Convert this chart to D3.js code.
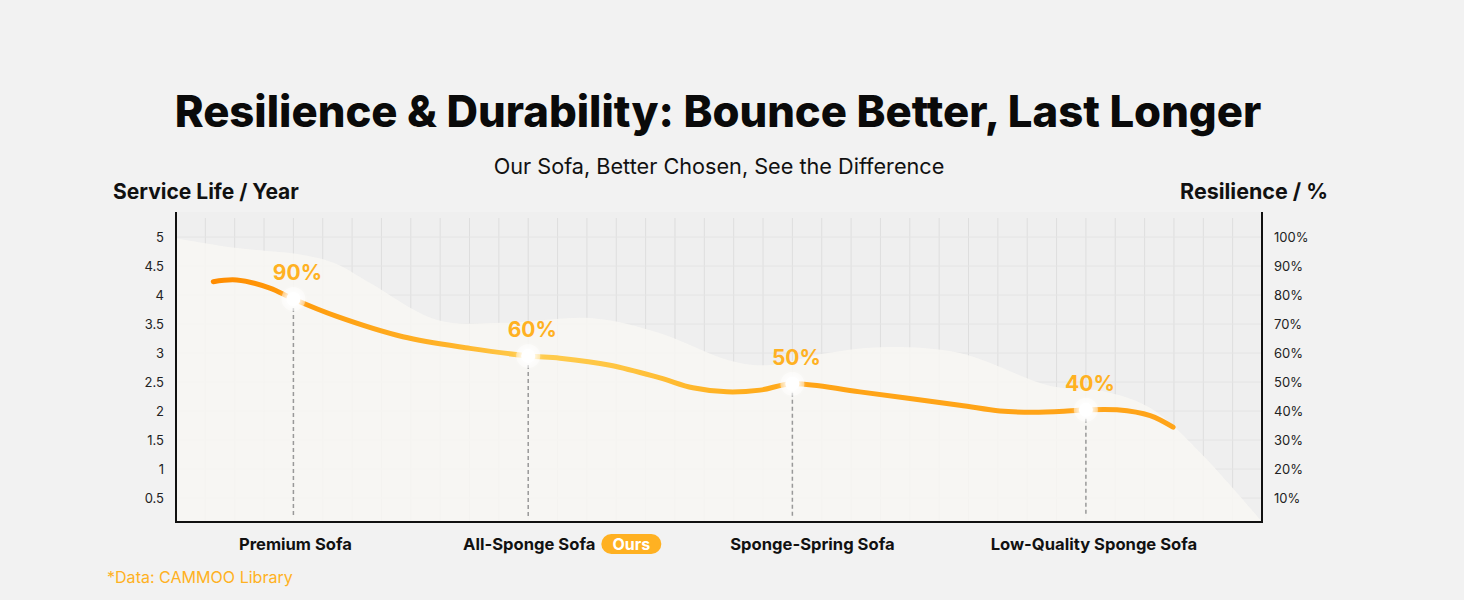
<!DOCTYPE html>
<html>
<head>
<meta charset="utf-8">
<script src="https://cdn.jsdelivr.net/npm/d3@7"></script>
<style>
  body { margin: 0; background: #f2f2f2; }
  svg text { font-family: Inter, "Noto Sans", sans-serif; }
</style>
</head>
<body>
<svg id="chart" width="1464" height="600"></svg>
<script>
// ---- data ----
const categories = ["Premium Sofa", "All-Sponge Sofa", "Sponge-Spring Sofa", "Low-Quality Sponge Sofa"];
const categoryCol = [4, 12, 21, 31];          // grid column of each sofa
const resilience = [90, 60, 50, 40];          // % labels
const serviceLife = [3.93, 2.95, 2.47, 2.02]; // dot heights, years
const isOurs = [false, true, false, false];

// service-life curve, grid column / years
const lineCols = [1.27, 2.07, 3.2, 4, 5.48, 7.73, 10.02, 12, 13.08, 14.79, 16.49, 17.61, 18.77, 19.9, 21, 23.3, 26.7, 28.07, 29.2, 30.36, 31, 32.06, 33.19, 33.97];
const lineVals = [4.23, 4.26, 4.12, 3.93, 3.63, 3.28, 3.08, 2.95, 2.91, 2.79, 2.57, 2.40, 2.33, 2.36, 2.47, 2.33, 2.10, 2.0, 1.98, 2.0, 2.02, 2.02, 1.92, 1.72];

// soft background band
const bgCols = [0, 2.08, 4.33, 5.4, 6.6, 8.9, 11.1, 14.2, 16.5, 18.8, 20.1, 22.2, 24, 26.7, 29.8, 31.6, 33.2, 34.9, 37];
const bgVals = [4.98, 4.81, 4.69, 4.55, 4.21, 3.57, 3.52, 3.60, 3.34, 2.88, 2.79, 3.0, 3.10, 3.0, 2.43, 2.34, 2.05, 1.28, 0.09];

const yearTicks = [0.5, 1, 1.5, 2, 2.5, 3, 3.5, 4, 4.5, 5];
const pctTicks = [10, 20, 30, 40, 50, 60, 70, 80, 90, 100];
const nCols = 37;

// ---- layout ----
const box = { left: 176, right: 1262, top: 212, bottom: 522 };
const orange = "#ffb122";

const svg = d3.select("#chart");

const x = d3.scaleLinear().domain([0, nCols]).range([box.left, box.right]);
const y = d3.scaleLinear().domain([0, 5]).range([527, 237]);
const yPct = d3.scaleLinear().domain([0, 100]).range([527, 237]);

const defs = svg.append("defs");
defs.append("clipPath").attr("id", "plot-clip")
  .append("rect")
    .attr("x", box.left).attr("y", box.top)
    .attr("width", box.right - box.left).attr("height", box.bottom - box.top);

const grad = defs.append("linearGradient")
  .attr("id", "line-grad")
  .attr("gradientUnits", "userSpaceOnUse")
  .attr("x1", x(lineCols[0])).attr("x2", x(lineCols[lineCols.length - 1]))
  .attr("y1", 0).attr("y2", 0);
[[0, "#ff8c00"], [0.1, "#ff9d0e"], [0.25, "#ffb42a"], [0.33, "#ffcd50"], [0.43, "#ffc440"],
 [0.54, "#ffb020"], [0.62, "#ffa416"], [1, "#ffa419"]].forEach(([o, c]) => {
  grad.append("stop").attr("offset", o).attr("stop-color", c);
});

const glow = defs.append("filter").attr("id", "glow")
  .attr("x", "-100%").attr("y", "-100%").attr("width", "300%").attr("height", "300%");
glow.append("feGaussianBlur").attr("stdDeviation", 3);

// plot background
const plot = svg.append("g").attr("clip-path", "url(#plot-clip)");
plot.append("rect")
  .attr("x", box.left).attr("y", box.top)
  .attr("width", box.right - box.left).attr("height", box.bottom - box.top)
  .attr("fill", "#efefef");

// grid
plot.selectAll(".vgrid")
  .data(d3.range(1, nCols))
  .join("line")
    .attr("class", "vgrid")
    .attr("x1", d => x(d)).attr("x2", d => x(d))
    .attr("y1", box.top + 6).attr("y2", box.bottom)
    .attr("stroke", "#dedede").attr("stroke-width", 1);

plot.selectAll(".hgrid")
  .data(yearTicks)
  .join("line")
    .attr("class", "hgrid")
    .attr("x1", box.left).attr("x2", box.right)
    .attr("y1", d => y(d)).attr("y2", d => y(d))
    .attr("stroke", "#e4e4e4").attr("stroke-width", 1);

// background band
const bgData = bgCols.map((c, i) => [c, bgVals[i]]);
plot.append("path")
  .datum(bgData)
  .attr("d", d3.area()
    .x(d => x(d[0]))
    .y0(box.bottom)
    .y1(d => y(d[1]))
    .curve(d3.curveCatmullRom.alpha(0.5)))
  .attr("fill", "#f8f7f3")
  .attr("fill-opacity", 0.85);

// dashed drop lines
svg.selectAll(".drop")
  .data(categories)
  .join("line")
    .attr("class", "drop")
    .attr("x1", (d, i) => x(categoryCol[i])).attr("x2", (d, i) => x(categoryCol[i]))
    .attr("y1", (d, i) => y(serviceLife[i]) + 9)
    .attr("y2", box.bottom - 6)
    .attr("stroke", "#999").attr("stroke-width", 1.5)
    .attr("stroke-dasharray", "4,3");

// service life curve
const lineData = lineCols.map((c, i) => [c, lineVals[i]]);
svg.append("path")
  .datum(lineData)
  .attr("d", d3.line()
    .x(d => x(d[0]))
    .y(d => y(d[1]))
    .curve(d3.curveCatmullRom.alpha(0.5)))
  .attr("fill", "none")
  .attr("stroke", "url(#line-grad)")
  .attr("stroke-width", 5)
  .attr("stroke-linecap", "round");

// glowing dots
const dots = svg.selectAll(".dot")
  .data(categories)
  .join("g")
    .attr("class", "dot")
    .attr("transform", (d, i) => `translate(${x(categoryCol[i])},${y(serviceLife[i])})`);
dots.append("circle").attr("r", 12).attr("fill", "#fff").attr("fill-opacity", 0.45);
dots.append("circle").attr("r", 9).attr("fill", "#fff").attr("filter", "url(#glow)");
dots.append("circle").attr("r", 7).attr("fill", "#fff");

// % labels
svg.selectAll(".pct")
  .data(resilience)
  .join("text")
    .attr("class", "pct")
    .attr("x", (d, i) => x(categoryCol[i]) + 4)
    .attr("y", (d, i) => y(serviceLife[i]) - 26)
    .attr("dy", "0.35em")
    .attr("text-anchor", "middle")
    .attr("font-size", 21)
    .attr("font-weight", 700)
    .attr("fill", orange)
    .text(d => d + "%");

// axes
const axisL = svg.append("g")
  .attr("transform", `translate(${box.left},0)`)
  .call(d3.axisLeft(y).tickValues(yearTicks).tickSize(0).tickPadding(12).tickFormat(d => String(d)));
const axisR = svg.append("g")
  .attr("transform", `translate(${box.right},0)`)
  .call(d3.axisRight(yPct).tickValues(pctTicks).tickSize(0).tickPadding(12).tickFormat(d => d + "%"));
[axisL, axisR].forEach(a => {
  a.select(".domain").remove();
  a.selectAll("text")
    .attr("font-family", null)
    .attr("font-size", 13)
    .attr("fill", "#222");
});

// frame lines
svg.append("path")
  .attr("d", `M${box.left},${box.top}V${box.bottom}H${box.right}V${box.top}`)
  .attr("fill", "none")
  .attr("stroke", "#111")
  .attr("stroke-width", 2);

// category labels
const labelDx = [2, 1, 20, 8];
const cats = svg.selectAll(".cat")
  .data(categories)
  .join("text")
    .attr("class", "cat")
    .attr("x", (d, i) => x(categoryCol[i]) + labelDx[i])
    .attr("y", 550)
    .attr("text-anchor", "middle")
    .attr("font-size", 16.6)
    .attr("font-weight", 700)
    .attr("fill", "#111")
    .text(d => d);

cats.filter((d, i) => isOurs[i]).each(function(d, i) {
  const bb = this.getBBox();
  const pill = svg.append("g").attr("transform", `translate(${bb.x + bb.width + 6},534)`);
  pill.append("rect")
    .attr("width", 60).attr("height", 20).attr("rx", 10)
    .attr("fill", orange);
  pill.append("text")
    .attr("x", 30).attr("y", 16)
    .attr("text-anchor", "middle")
    .attr("font-size", 16)
    .attr("font-weight", 700)
    .attr("fill", "#fff")
    .text("Ours");
});

// titles
function fitWidth(sel, target) {
  const w = sel.node().getComputedTextLength();
  const fs = parseFloat(sel.attr("font-size"));
  sel.attr("font-size", fs * target / w);
}

const title = svg.append("text")
  .attr("x", 718).attr("y", 127)
  .attr("text-anchor", "middle")
  .attr("font-size", 42)
  .attr("font-weight", 800)
  .attr("fill", "#0a0a0a")
  .text("Resilience & Durability: Bounce Better, Last Longer");
fitWidth(title, 1087);

const sub = svg.append("text")
  .attr("x", 719).attr("y", 174)
  .attr("text-anchor", "middle")
  .attr("font-size", 21)
  .attr("fill", "#111")
  .text("Our Sofa, Better Chosen, See the Difference");
fitWidth(sub, 451);

const yTitleL = svg.append("text")
  .attr("x", 113).attr("y", 199)
  .attr("font-size", 21)
  .attr("font-weight", 700)
  .attr("fill", "#111")
  .text("Service Life / Year");
fitWidth(yTitleL, 186);

const yTitleR = svg.append("text")
  .attr("x", 1328).attr("y", 199)
  .attr("text-anchor", "end")
  .attr("font-size", 21)
  .attr("font-weight", 700)
  .attr("fill", "#111")
  .text("Resilience / %");
fitWidth(yTitleR, 148);

const source = svg.append("text")
  .attr("x", 107).attr("y", 583)
  .attr("font-size", 15)
  .attr("fill", orange)
  .text("*Data: CAMMOO Library");
fitWidth(source, 186);
</script>
</body>
</html>
